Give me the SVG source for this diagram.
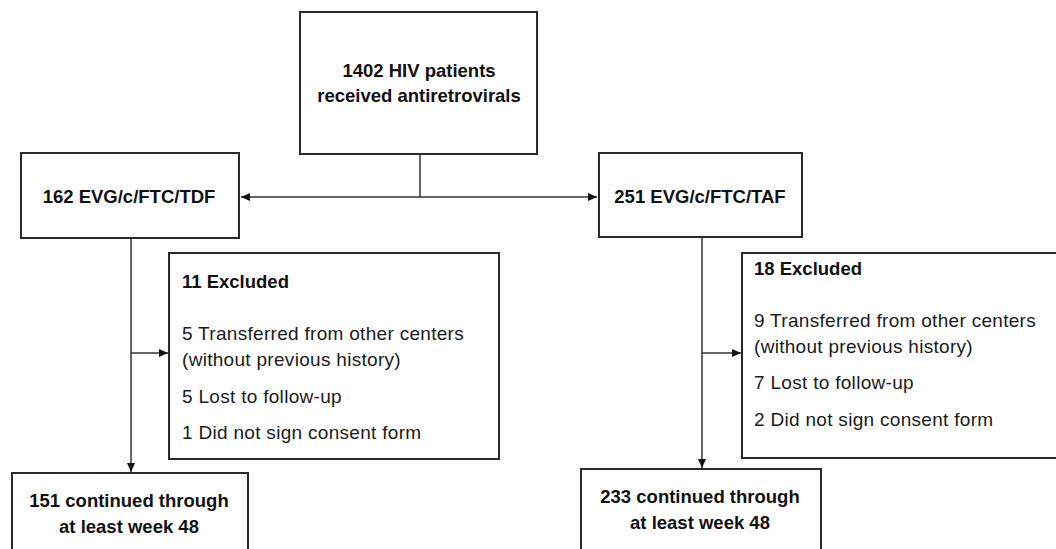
<svg xmlns="http://www.w3.org/2000/svg" width="1056" height="549" viewBox="0 0 1056 549">
<style>
.box{fill:#fff;stroke:#2a2a2a;stroke-width:2}
.ln{fill:none;stroke:#333;stroke-width:1.5}
.b{font-family:"Liberation Sans",Arial,sans-serif;font-weight:bold;font-size:18.5px;fill:#111}
.t{font-family:"Liberation Sans",Arial,sans-serif;font-size:19px;letter-spacing:0.3px;fill:#1a1a1a}
.c{text-anchor:middle}
</style>
<defs>
<marker id="ah" markerUnits="userSpaceOnUse" markerWidth="10" markerHeight="9" refX="9" refY="4" orient="auto-start-reverse">
<path d="M0,0 L9,4 L0,8 z" fill="#111"/>
</marker>
</defs>
<rect width="1056" height="549" fill="#fff"/>
<g id="connectors">
<path class="ln" d="M420,154 V197"/>
<path class="ln" d="M241,197 H597" marker-start="url(#ah)" marker-end="url(#ah)"/>
<path class="ln" d="M131,238 V472" marker-end="url(#ah)"/>
<path class="ln" d="M131,353 H168" marker-end="url(#ah)"/>
<path class="ln" d="M702,237 V468" marker-end="url(#ah)"/>
<path class="ln" d="M702,353 H741" marker-end="url(#ah)"/>
</g>
<g id="n_total">
<rect class="box" x="300" y="12" width="237" height="142"/>
<text class="b c" x="419" y="77">1402 HIV patients</text>
<text class="b c" x="419" y="102">received antiretrovirals</text>
</g>
<g id="n_tdf">
<rect class="box" x="21" y="153" width="218" height="85"/>
<text class="b c" x="129" y="203">162 EVG/c/FTC/TDF</text>
</g>
<g id="n_taf">
<rect class="box" x="599" y="153" width="203" height="84"/>
<text class="b c" x="700" y="203">251 EVG/c/FTC/TAF</text>
</g>
<g id="n_excl_tdf">
<rect class="box" x="169" y="253" width="330" height="206"/>
<text class="b" x="182" y="288">11 Excluded</text>
<text class="t" x="182" y="340">5 Transferred from other centers</text>
<text class="t" x="182" y="366">(without previous history)</text>
<text class="t" x="182" y="403">5 Lost to follow-up</text>
<text class="t" x="182" y="439">1 Did not sign consent form</text>
</g>
<g id="n_excl_taf">
<rect class="box" x="742" y="253" width="330" height="205"/>
<text class="b" x="754" y="275">18 Excluded</text>
<text class="t" x="754" y="327">9 Transferred from other centers</text>
<text class="t" x="754" y="353">(without previous history)</text>
<text class="t" x="754" y="389">7 Lost to follow-up</text>
<text class="t" x="754" y="426">2 Did not sign consent form</text>
</g>
<g id="n_cont_tdf">
<rect class="box" x="12" y="473" width="236" height="90"/>
<text class="b c" x="129" y="507">151 continued through</text>
<text class="b c" x="129" y="533">at least week 48</text>
</g>
<g id="n_cont_taf">
<rect class="box" x="581" y="469" width="240" height="90"/>
<text class="b c" x="700" y="503">233 continued through</text>
<text class="b c" x="700" y="529">at least week 48</text>
</g>
</svg>
